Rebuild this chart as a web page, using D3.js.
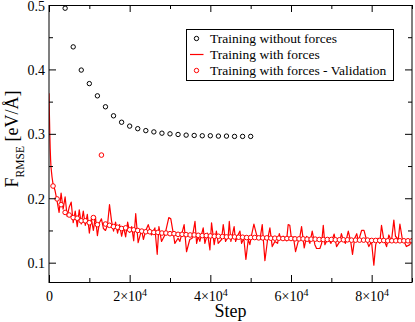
<!DOCTYPE html>
<html>
<head>
<meta charset="utf-8">
<script src="https://cdn.jsdelivr.net/npm/d3@7"></script>
<style>
  body { margin: 0; background: #fff; }
  svg { display: block; }
  svg text { font-family: "Liberation Serif", "DejaVu Serif", serif; }
</style>
</head>
<body>
<div id="chart"></div>
<script>
// Training without forces (black open circles)
const noForceStep = [4000, 6000, 8000, 10000, 12000, 14000, 16000, 18000, 20000, 22000,
  24000, 26000, 28000, 30000, 32000, 34000, 36000, 38000, 40000, 42000, 44000, 46000, 48000, 50000];
const noForceRmse = [0.495, 0.435, 0.399, 0.378, 0.359, 0.342, 0.328, 0.318, 0.312, 0.308,
  0.305, 0.303, 0.301, 0.300, 0.299, 0.298, 0.2975, 0.297, 0.297, 0.2965, 0.2965, 0.296, 0.296, 0.296];

// Training with forces (red noisy line)
const forceStep = [0, 100, 200, 300, 400, 500, 750, 1000, 1500, 2000, 2500, 3000, 3500, 4000, 4500,
  5000, 5500, 6000, 6500, 7000, 7500, 8000, 8500, 9000, 9500, 10000, 10500, 11000, 11500, 12000,
  12500, 13000, 13500, 14000, 14500, 15000, 15500, 16000, 16500, 17000, 17500, 18000, 18500, 19000,
  19500, 20000, 20500, 21000, 21500, 22100, 22950, 23400, 24000, 24600, 25400, 26250, 26830, 27250,
  27900, 28730, 29700, 30200, 30800, 31200, 32000, 32450, 33500, 34100, 34900, 35500, 36200, 36600,
  37000, 37400, 38230, 38650, 39300, 39900, 40300, 40960, 41500, 41950, 42780, 43200, 43770, 44430,
  44700, 45100, 45900, 46260, 46800, 47340, 47750, 48300, 48820, 49400, 49800, 50300, 50800, 51470,
  52300, 52870, 53530, 54200, 54770, 55350, 56000, 56670, 57100, 57500, 58100, 58900, 59300, 59700,
  60140, 60600, 61130, 61790, 62200, 62620, 63280, 63860, 64300, 64680, 65260, 65920, 66340, 67160,
  67600, 68000, 68400, 69200, 69900, 70700, 71300, 72100, 72500, 72900, 73500, 74200, 74800, 75250,
  75800, 76300, 76700, 77500, 78100, 78700, 79300, 79960, 80540, 81000, 81600, 82000, 82440, 83000,
  83700, 84260, 84900, 85500, 85900, 86600, 87000, 87560, 88060, 88600, 89460, 89900];
const forceRmse = [0.363, 0.330, 0.300, 0.277, 0.260, 0.248, 0.233, 0.222, 0.212, 0.196, 0.178, 0.208, 0.183, 0.202, 0.172,
  0.186, 0.194, 0.162, 0.180, 0.156, 0.182, 0.160, 0.180, 0.158, 0.175, 0.146, 0.168, 0.150, 0.172, 0.142,
  0.162, 0.168, 0.153, 0.150, 0.158, 0.190, 0.165, 0.149, 0.163, 0.146, 0.159, 0.141, 0.155, 0.140,
  0.163, 0.147, 0.156, 0.134, 0.176, 0.131, 0.151, 0.136, 0.150, 0.159, 0.143, 0.154, 0.113, 0.156,
  0.133, 0.143, 0.170, 0.168, 0.146, 0.130, 0.138, 0.133, 0.159, 0.117, 0.136, 0.138, 0.164, 0.130,
  0.141, 0.133, 0.154, 0.130, 0.146, 0.120, 0.162, 0.128, 0.149, 0.130, 0.136, 0.159, 0.133, 0.141,
  0.164, 0.133, 0.156, 0.133, 0.142, 0.149, 0.130, 0.138, 0.105, 0.136, 0.128, 0.145, 0.160, 0.143,
  0.136, 0.159, 0.103, 0.136, 0.154, 0.125, 0.133, 0.130, 0.145, 0.136, 0.141, 0.134, 0.159, 0.158,
  0.136, 0.140, 0.117, 0.133, 0.140, 0.156, 0.123, 0.141, 0.135, 0.130, 0.149, 0.128, 0.122, 0.122,
  0.130, 0.158, 0.128, 0.138, 0.130, 0.1445, 0.125, 0.133, 0.145, 0.136, 0.130, 0.149, 0.133, 0.113,
  0.138, 0.145, 0.133, 0.150, 0.150, 0.136, 0.125, 0.133, 0.096, 0.128, 0.138, 0.130, 0.158, 0.136,
  0.125, 0.143, 0.133, 0.166, 0.141, 0.136, 0.160, 0.138, 0.133, 0.125, 0.128, 0.136];

// Training with forces - Validation (red open circles), every 1000 steps
const valStep = d3.range(1000, 90001, 1000);
const valRmse = [0.219, 0.199, 0.190, 0.178, 0.174, 0.170, 0.169, 0.165, 0.165, 0.162,
  0.170, 0.159, 0.267, 0.160, 0.158, 0.156, 0.155, 0.153, 0.154, 0.151,
  0.151, 0.150, 0.149, 0.148, 0.148, 0.147, 0.147, 0.146, 0.146, 0.145,
  0.145, 0.144, 0.144, 0.1435, 0.143, 0.143, 0.1425, 0.142, 0.142, 0.1415,
  0.141, 0.141, 0.1405, 0.140, 0.140, 0.140, 0.1395, 0.1395, 0.139, 0.139,
  0.139, 0.1385, 0.1385, 0.1385, 0.138, 0.138, 0.138, 0.1375, 0.1375, 0.1375,
  0.137, 0.137, 0.137, 0.1365, 0.1365, 0.1365, 0.136, 0.136, 0.136, 0.136,
  0.1355, 0.1355, 0.1355, 0.1355, 0.135, 0.135, 0.135, 0.135, 0.135, 0.1345,
  0.1345, 0.1345, 0.1345, 0.134, 0.134, 0.134, 0.134, 0.134, 0.134, 0.134];

const xMajor = [0, 20000, 40000, 60000, 80000];
const xMinor = [10000, 30000, 50000, 70000, 90000];
const yMajor = [0.1, 0.2, 0.3, 0.4, 0.5];
const yMinor = [0.15, 0.25, 0.35, 0.45];
const legendLabels = ["Training without forces", "Training with forces", "Training with forces - Validation"];

const width = 415, height = 322;
const mLeft = 49, mRight = 412, mTop = 5, mBottom = 282;
const serif = "Liberation Serif, DejaVu Serif, serif";

const svg = d3.select("#chart").append("svg")
  .attr("width", width)
  .attr("height", height);

svg.append("rect").attr("width", width).attr("height", height).attr("fill", "#fff");

const x = d3.scaleLinear().domain([0, 90000]).range([mLeft, mRight]);
const y = d3.scaleLinear().domain([0.07, 0.5]).range([mBottom, mTop]);

// clip to the frame
svg.append("clipPath").attr("id", "clip")
  .append("rect").attr("x", mLeft).attr("y", mTop).attr("width", mRight - mLeft).attr("height", mBottom - mTop);

const data = svg.append("g").attr("clip-path", "url(#clip)");

// red noisy line
const forcePts = forceStep.map((s, i) => [s, forceRmse[i]]);
data.append("path")
  .datum(forcePts)
  .attr("fill", "none")
  .attr("stroke", "#ff0000")
  .attr("stroke-width", 1.2)
  .attr("stroke-linejoin", "round")
  .attr("d", d3.line().x(d => x(d[0])).y(d => y(d[1])));

// validation circles
data.selectAll(".val")
  .data(valStep.map((s, i) => [s, valRmse[i]]))
  .enter().append("circle")
  .attr("class", "val")
  .attr("cx", d => x(d[0]))
  .attr("cy", d => y(d[1]))
  .attr("r", 2.3)
  .attr("fill", "#fff")
  .attr("stroke", "#ff0000")
  .attr("stroke-width", 1);

// black circles
data.selectAll(".nof")
  .data(noForceStep.map((s, i) => [s, noForceRmse[i]]))
  .enter().append("circle")
  .attr("class", "nof")
  .attr("cx", d => x(d[0]))
  .attr("cy", d => y(d[1]))
  .attr("r", 2.2)
  .attr("fill", "none")
  .attr("stroke", "#000")
  .attr("stroke-width", 1);

// axes: ticks inward on all four sides
function styleAxis(g) {
  g.select(".domain").remove();
  g.attr("font-family", null).attr("font-size", 14).style("font-family", serif);
  g.selectAll(".tick line").attr("stroke", "#000");
  g.selectAll(".tick text").attr("fill", "#000");
}

const gxB = svg.append("g").attr("transform", `translate(0,${mBottom})`)
  .call(d3.axisBottom(x).tickValues(xMajor).tickSize(-7).tickPadding(9).tickFormat(() => ""))
  .call(styleAxis);
gxB.selectAll(".tick text").each(function (d) {
  const t = d3.select(this);
  if (d === 0) { t.text("0"); return; }
  t.append("tspan").text(`${d / 1e4}×10`);
  t.append("tspan").attr("dy", "-0.45em").attr("font-size", 10).text("4");
});
svg.append("g").attr("transform", `translate(0,${mBottom})`)
  .call(d3.axisBottom(x).tickValues(xMinor).tickSize(-4).tickFormat(() => ""))
  .call(styleAxis);

svg.append("g").attr("transform", `translate(0,${mTop})`)
  .call(d3.axisTop(x).tickValues(xMajor).tickSize(-7).tickFormat(() => ""))
  .call(styleAxis);
svg.append("g").attr("transform", `translate(0,${mTop})`)
  .call(d3.axisTop(x).tickValues(xMinor).tickSize(-4).tickFormat(() => ""))
  .call(styleAxis);

const gyL = svg.append("g").attr("transform", `translate(${mLeft},0)`)
  .call(d3.axisLeft(y).tickValues(yMajor).tickSize(-7).tickPadding(4).tickFormat(d3.format(".1f")))
  .call(styleAxis);
gyL.selectAll(".tick text").attr("dy", "0.36em");
svg.append("g").attr("transform", `translate(${mLeft},0)`)
  .call(d3.axisLeft(y).tickValues(yMinor).tickSize(-4).tickFormat(() => ""))
  .call(styleAxis);

svg.append("g").attr("transform", `translate(${mRight},0)`)
  .call(d3.axisRight(y).tickValues(yMajor).tickSize(-7).tickFormat(() => ""))
  .call(styleAxis);
svg.append("g").attr("transform", `translate(${mRight},0)`)
  .call(d3.axisRight(y).tickValues(yMinor).tickSize(-4).tickFormat(() => ""))
  .call(styleAxis);

// frame
svg.append("rect")
  .attr("x", mLeft).attr("y", mTop + 0.5)
  .attr("width", mRight - mLeft).attr("height", mBottom - mTop)
  .attr("fill", "none").attr("stroke", "#000").attr("stroke-width", 1);

// axis titles
svg.append("text")
  .attr("x", (mLeft + mRight) / 2).attr("y", 317)
  .attr("text-anchor", "middle")
  .style("font-family", serif).attr("font-size", 18)
  .text("Step");

const yt = svg.append("text")
  .attr("transform", "translate(18,139) rotate(-90)")
  .attr("text-anchor", "middle")
  .style("font-family", serif).attr("font-size", 18);
yt.append("tspan").text("F");
yt.append("tspan").attr("dy", 6).attr("font-size", 11.5).text("RMSE");
yt.append("tspan").attr("dy", -6).text(" [eV/Å]");

// legend
const lg = svg.append("g");
lg.append("rect")
  .attr("x", 186.5).attr("y", 29.5).attr("width", 207).attr("height", 51)
  .attr("fill", "#fff").attr("stroke", "#000").attr("stroke-width", 1);
const rowY = [38.5, 54.5, 70.5];
lg.append("circle").attr("cx", 196.5).attr("cy", rowY[0]).attr("r", 2.2)
  .attr("fill", "none").attr("stroke", "#000");
lg.append("line").attr("x1", 190).attr("x2", 203.5).attr("y1", rowY[1]).attr("y2", rowY[1])
  .attr("stroke", "#ff0000").attr("stroke-width", 1.2);
lg.append("circle").attr("cx", 196.5).attr("cy", rowY[2]).attr("r", 2.2)
  .attr("fill", "#fff").attr("stroke", "#ff0000");
lg.selectAll(".lt")
  .data(legendLabels)
  .enter().append("text")
  .attr("class", "lt")
  .attr("x", 210)
  .attr("y", (d, i) => rowY[i])
  .attr("dy", "0.35em")
  .style("font-family", serif).attr("font-size", 13.5)
  .text(d => d);
</script>
</body>
</html>
